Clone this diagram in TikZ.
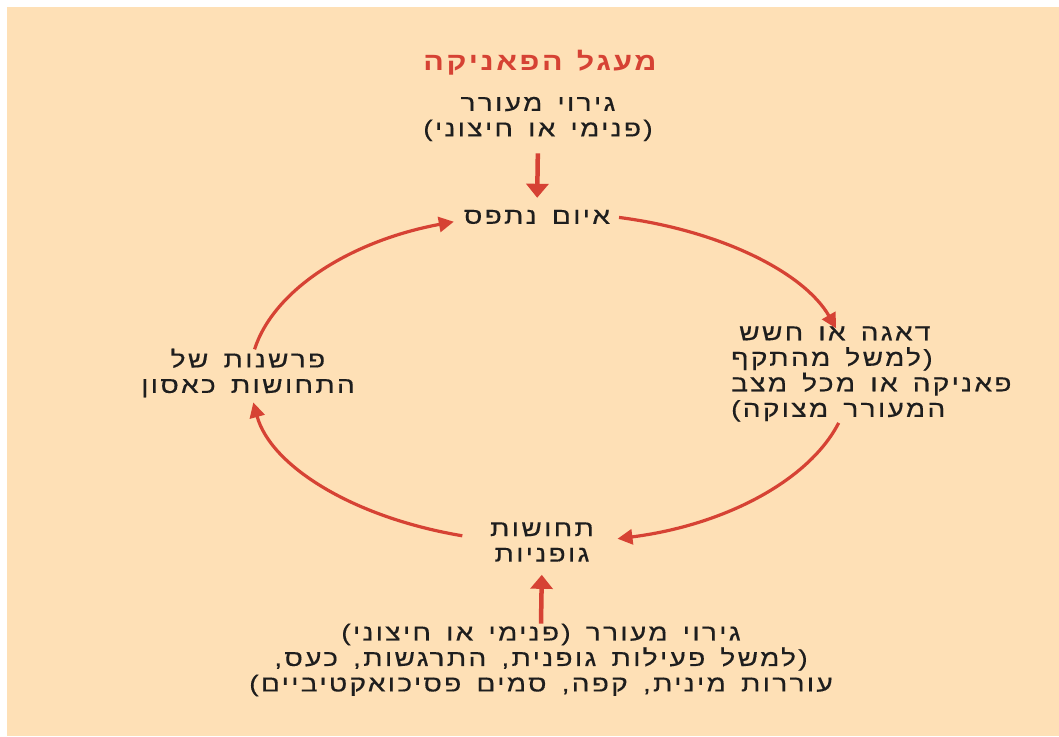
\documentclass[tikz,border=0pt]{standalone}
\usepackage{fontspec}
\setmainfont{Liberation Sans}
\newfontfamily\heb[Script=Hebrew,FakeStretch=1.22,LetterSpace=10,WordSpace=1.5,FakeBold=0.4]{Liberation Sans}
\newfontfamily\hebttl[Script=Hebrew,FakeStretch=1.22,LetterSpace=10,WordSpace=1.3]{Liberation Sans}
\TeXXeTstate=1
\usetikzlibrary{arrows.meta}
\definecolor{bg}{HTML}{FEE0B6}
\definecolor{arrred}{HTML}{D64234}
\definecolor{txt}{HTML}{1E1E1E}
\newcommand{\RL}[1]{\beginR #1\endR}
\begin{document}
\begin{tikzpicture}[x=1pt,y=1pt,
  lbl/.style={font=\heb\fontsize{23}{25.5}\selectfont, text=txt, align=center, inner sep=0pt},
  ttl/.style={font=\hebttl\bfseries\fontsize{25}{26}\selectfont, text=arrred, inner sep=0pt},
  arcarrow/.style={draw=arrred, line width=3.2pt, -{Triangle[length=15pt,width=15pt]}},
  straightarrow/.style={draw=arrred, line width=4.5pt, -{Triangle[length=14pt,width=22pt]}}]
\useasboundingbox (0,0) rectangle (1059,736);
\fill[bg] (7,0) rectangle (1059,729);

\node[ttl] (title) at (540,673) {\RL{מעגל הפאניקה}};
\node[lbl] (stim) at (538,617) {\RL{גירוי מעורר}\\\RL{(פנימי או חיצוני)}};
\node[lbl] (threat) at (537,519) {\RL{איום נתפס}};
\node[lbl, align=left, anchor=west] (worry) at (731,362) {\hspace*{8pt}\RL{דאגה או חשש}\\\RL{(למשל מהתקף}\\\RL{פאניקה או מכל מצב}\\\RL{המעורר מצוקה)}};
\node[lbl] (body) at (542,194) {\RL{תחושות}\\\RL{גופניות}};
\node[lbl] (interp) at (248,363) {\RL{פרשנות של}\\\RL{התחושות כאסון}};
\node[lbl] (trig) at (541,76) {\RL{גירוי מעורר (פנימי או חיצוני)}\\\RL{(למשל פעילות גופנית, התרגשות, כעס,}\\\RL{עוררות מינית, קפה, סמים פסיכואקטיביים)}};

\draw[straightarrow, shorten <=12pt, shorten >=12pt] (stim.south) -- (threat.north);
\draw[straightarrow, shorten >=13pt] (trig.north) -- (body.south);

\coordinate (ctr) at (550,358);
\coordinate (s1) at ([shift={(76.7:300pt and 165pt)}]ctr);
\coordinate (s2) at ([shift={(-15.8:300pt and 165pt)}]ctr);
\coordinate (s3) at ([shift={(253:300pt and 165pt)}]ctr);
\coordinate (s4) at ([shift={(170:300pt and 165pt)}]ctr);
\draw[arcarrow] (s1) arc[start angle=76.7, end angle=17.5, x radius=300pt, y radius=165pt];
\draw[arcarrow] (s2) arc[start angle=-15.8, end angle=-77, x radius=300pt, y radius=165pt];
\draw[arcarrow] (s3) arc[start angle=253, end angle=188.5, x radius=300pt, y radius=165pt];
\draw[arcarrow] (s4) arc[start angle=170, end angle=108.7, x radius=300pt, y radius=165pt];
\end{tikzpicture}
\end{document}
